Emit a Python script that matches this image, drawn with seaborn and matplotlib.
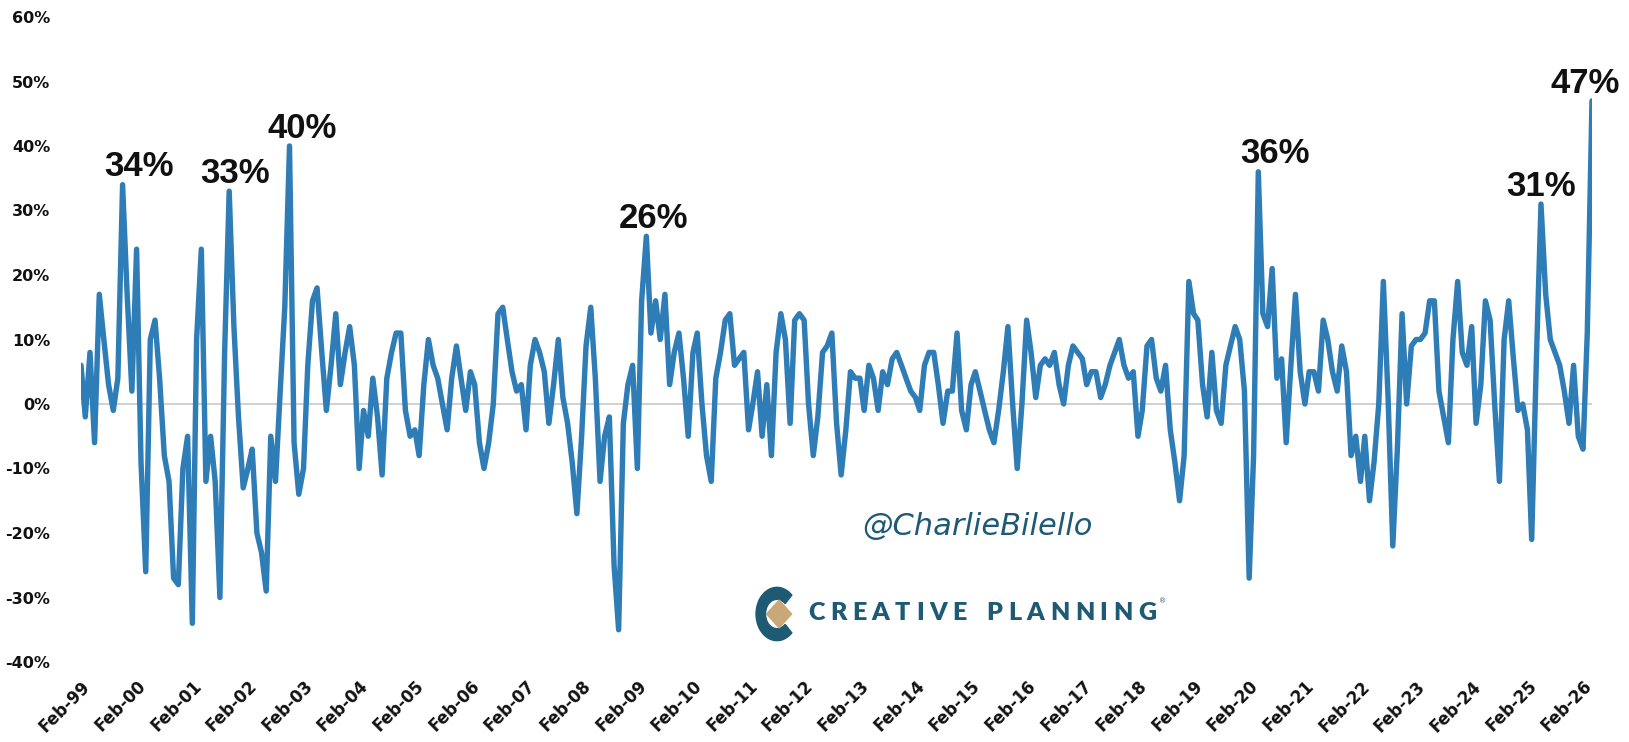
import numpy as np
import pandas as pd
import matplotlib
matplotlib.use("Agg")
import matplotlib.pyplot as plt
import matplotlib.dates as mdates
from matplotlib.ticker import FuncFormatter, FixedLocator
from matplotlib.patches import Wedge, Polygon
import seaborn as sns

# Monthly readings (%), each row runs Feb..Jan starting Feb 1999
y1999 = [6, -2, 8, -6, 17, 10, 3, -1, 4, 34, 17, 2]
y2000 = [24, -9, -26, 10, 13, 4, -8, -12, -27, -28, -10, -5]
y2001 = [-34, 10, 24, -12, -5, -12, -30, 8, 33, 12, -2, -13]
y2002 = [-10, -7, -20, -23, -29, -5, -12, 2, 15, 40, -6, -14]
y2003 = [-10, 6, 16, 18, 8, -1, 6, 14, 3, 8, 12, 6]
y2004 = [-10, -1, -5, 4, -2, -11, 4, 8, 11, 11, -1, -5]
y2005 = [-4, -8, 3, 10, 6, 4, 0, -4, 4, 9, 4, -1]
y2006 = [5, 3, -6, -10, -6, 0, 14, 15, 10, 5, 2, 3]
y2007 = [-4, 6, 10, 8, 5, -3, 3, 10, 1, -3, -9, -17]
y2008 = [-5, 9, 15, 4, -12, -5, -2, -25, -35, -3, 3, 6]
y2009 = [-10, 16, 26, 11, 16, 10, 17, 3, 8, 11, 4, -5]
y2010 = [8, 11, 0, -8, -12, 4, 8, 13, 14, 6, 7, 8]
y2011 = [-4, 0, 5, -5, 3, -8, 8, 14, 10, -3, 13, 14]
y2012 = [13, 0, -8, -2, 8, 9, 11, -3, -11, -4, 5, 4]
y2013 = [4, -1, 6, 4, -1, 5, 3, 7, 8, 6, 4, 2]
y2014 = [1, -1, 6, 8, 8, 3, -3, 2, 2, 11, -1, -4]
y2015 = [3, 5, 2, -1, -4, -6, -1, 5, 12, 0, -10, 0]
y2016 = [13, 8, 1, 6, 7, 6, 8, 3, 0, 6, 9, 8]
y2017 = [7, 3, 5, 5, 1, 3, 6, 8, 10, 6, 4, 5]
y2018 = [-5, -1, 9, 10, 4, 2, 6, -4, -9, -15, -8, 19]
y2019 = [14, 13, 3, -2, 8, -1, -3, 6, 9, 12, 10, 2]
y2020 = [-27, -8, 36, 14, 12, 21, 4, 7, -6, 6, 17, 5]
y2021 = [0, 5, 5, 2, 13, 10, 5, 2, 9, 5, -8, -5]
y2022 = [-12, -5, -15, -9, 0, 19, 1, -22, -7, 14, 0, 9]
y2023 = [10, 10, 11, 16, 16, 2, -2, -6, 10, 19, 8, 6]
y2024 = [12, -3, 3, 16, 13, 0, -12, 10, 16, 7, -1, 0]
y2025 = [-4, -21, 7, 31, 17, 10, 8, 6, 2, -3, 6, -5]
y2026 = [-7, 11, 47]

rows = [y1999, y2000, y2001, y2002, y2003, y2004, y2005, y2006, y2007,
        y2008, y2009, y2010, y2011, y2012, y2013, y2014, y2015, y2016,
        y2017, y2018, y2019, y2020, y2021, y2022, y2023, y2024, y2025, y2026]
values = [v for r in rows for v in r]
dates = pd.date_range("1999-02-01", periods=len(values), freq="MS")

# Peaks that carry a value label, and the sideways nudge of each label (points)
peak_months = ["1999-11", "2001-10", "2002-11", "2009-04", "2020-04", "2025-05", "2026-04"]
label_dx = [12, 4, 9, 5, 12, 0, -5]

tick_dates = pd.date_range("1999-02-01", "2026-02-01", freq="12MS")

LINE = "#2f7db6"
TEAL = "#1f5a74"
TAN = "#c9a878"

df = pd.DataFrame({"date": dates, "value": np.array(values) / 100.0})

sns.set_theme(style="white")
plt.rcParams["font.family"] = ["DejaVu Sans"]
plt.rcParams["axes.unicode_minus"] = False

W, H = 1629, 742
fig = plt.figure(figsize=(W / 100, H / 100), dpi=100)
ax = fig.add_axes([81 / W, 1 - 662 / H, (1592 - 81) / W, (662 - 17) / H])

ax.axhline(0, color="#c8c8c8", lw=1.2, zorder=1)
sns.lineplot(data=df, x="date", y="value", color=LINE, lw=3.9, ax=ax, zorder=3)

ax.set_xlim(dates[0], dates[-1])
ax.set_ylim(-0.4, 0.6)
ax.yaxis.set_major_locator(FixedLocator(np.round(np.arange(-0.4, 0.61, 0.1), 2)))
ax.yaxis.set_major_formatter(FuncFormatter(lambda v, _: f"{int(round(v * 100))}%"))
ax.set_xticks(tick_dates)
ax.xaxis.set_major_formatter(mdates.DateFormatter("%b-%y"))
ax.set_xlabel("")
ax.set_ylabel("")
for s in ax.spines.values():
    s.set_visible(False)
ax.tick_params(axis="y", length=0, pad=22, labelsize=11.5, labelcolor="#111111")
ax.tick_params(axis="x", length=0, pad=11, labelsize=12, labelcolor="#111111")
for lab in ax.get_yticklabels():
    lab.set_fontweight("bold")
for lab in ax.get_xticklabels():
    lab.set_fontweight("bold")
    lab.set_rotation(45)
    lab.set_ha("right")
    lab.set_rotation_mode("anchor")

# Value labels over the marked peaks
for month, dx in zip(peak_months, label_dx):
    i = int(np.where(dates.strftime("%Y-%m") == month)[0][0])
    v = df["value"].iloc[i]
    ax.annotate(f"{v * 100:.0f}%", xy=(dates[i], v), xytext=(dx, 6),
                textcoords="offset points", ha="center", va="baseline",
                fontsize=25, fontweight="bold", family=["Liberation Sans", "DejaVu Sans"],
                color="#111111", annotation_clip=False, zorder=5)

# Handle watermark
fig.text(977 / W, 1 - 527 / H, "@CharlieBilello", ha="center", va="center",
         fontsize=22, style="italic", color=TEAL, family=["DejaVu Sans"])

# Brand mark: C-shaped emblem with a diamond, then tracked wordmark
logo_ax = fig.add_axes([755 / W, 1 - 642 / H, 44 / W, 56 / H])
logo_ax.set_xlim(-1.05, 1.05)
logo_ax.set_ylim(-1.05, 1.05)
logo_ax.axis("off")
logo_ax.add_patch(Wedge((0, 0), 1.0, 45, 315, width=0.45, color=TEAL))
logo_ax.add_patch(Polygon([(-0.5, 0.0), (0.1, 0.52), (0.7, 0.0), (0.1, -0.52)],
                          closed=True, color=TAN, zorder=3))

word = "CREATIVE PLANNING"
renderer = fig.canvas.get_renderer()
kw = dict(fontsize=18, fontweight="heavy", color=TEAL, family=["Lato", "DejaVu Sans"],
          va="center", ha="left")
probe = fig.text(0, 0, "N", **kw)
space_w = probe.get_window_extent(renderer).width * 0.45
probe.remove()
widths = []
for ch in word:
    if ch == " ":
        widths.append(space_w)
    else:
        t = fig.text(0, 0, ch, **kw)
        widths.append(t.get_window_extent(renderer).width)
        t.remove()
x0, x1, yc = 808, 1156, 613
track = (x1 - x0 - sum(widths)) / (len(word) - 1)
x = x0
for ch, w in zip(word, widths):
    if ch != " ":
        fig.text(x / W, 1 - yc / H, ch, **kw)
    x += w + track
fig.text((x1 + 3) / W, 1 - 601 / H, "®", fontsize=5, color=TEAL, ha="left", va="center")

fig.savefig("out.png", dpi=100, facecolor="white")
